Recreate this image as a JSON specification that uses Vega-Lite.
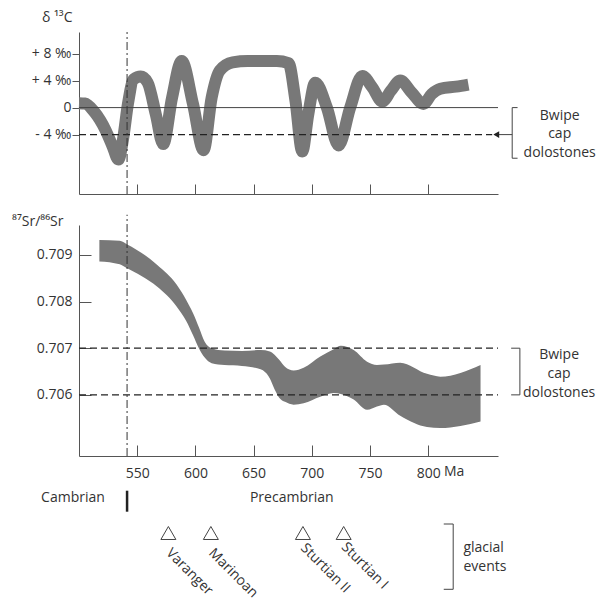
{
  "$schema": "https://vega.github.io/schema/vega-lite/v6.json",
  "width": 419,
  "height": 424,
  "autosize": {"type": "none"},
  "padding": {"left": 79, "top": 32, "right": 103, "bottom": 143},
  "background": "white",
  "config": {
    "view": {"stroke": null},
    "font": "Open Sans",
    "text": {"font": "Open Sans", "fontSize": 14, "fill": "#333"},
    "axis": {"grid": false, "domainColor": "#555", "tickColor": "#555", "labelFont": "Open Sans", "labelFontSize": 14, "labelColor": "#333", "titleFont": "Open Sans", "titleFontSize": 14, "titleColor": "#333", "titleFontWeight": "normal"}
  },
  "datasets": {
    "d13c": [
      {"ma": 500, "v": 0.65}, {"ma": 505, "v": 0.6}, {"ma": 513, "v": -0.6}, {"ma": 523, "v": -3.4}, {"ma": 529, "v": -5.8},
      {"ma": 533.8, "v": -7.7}, {"ma": 538, "v": -4.5}, {"ma": 542, "v": 0.5}, {"ma": 547, "v": 4.2}, {"ma": 553, "v": 4.6},
      {"ma": 559, "v": 3.7}, {"ma": 566, "v": -1.0}, {"ma": 572.3, "v": -5.4}, {"ma": 580, "v": 1.5}, {"ma": 588.2, "v": 6.9},
      {"ma": 598, "v": 0.5}, {"ma": 607, "v": -6.3}, {"ma": 614, "v": 1.5}, {"ma": 621, "v": 5.5}, {"ma": 632, "v": 6.7},
      {"ma": 645, "v": 6.9}, {"ma": 670, "v": 6.9}, {"ma": 680, "v": 6.6}, {"ma": 686, "v": 1.0}, {"ma": 691.8, "v": -6.5},
      {"ma": 697, "v": -1.0}, {"ma": 703, "v": 3.7}, {"ma": 713, "v": 0}, {"ma": 723, "v": -5.6}, {"ma": 733, "v": 0},
      {"ma": 743.4, "v": 4.7}, {"ma": 752, "v": 3.0}, {"ma": 760.6, "v": 0.9}, {"ma": 768, "v": 2.5}, {"ma": 776, "v": 4.0},
      {"ma": 786, "v": 2.2}, {"ma": 795.9, "v": 0.55}, {"ma": 803, "v": 2.0}, {"ma": 810.5, "v": 2.8}, {"ma": 824, "v": 3.1},
      {"ma": 834.6, "v": 3.4}
    ],
    "sr": [
      {"ma": 517.5, "lo": 0.70886, "hi": 0.70932}, {"ma": 535, "lo": 0.7088, "hi": 0.7093}, {"ma": 541, "lo": 0.70872, "hi": 0.70923},
      {"ma": 567, "lo": 0.70832, "hi": 0.70879}, {"ma": 584, "lo": 0.70789, "hi": 0.70836}, {"ma": 592, "lo": 0.70759, "hi": 0.70804},
      {"ma": 598, "lo": 0.70728, "hi": 0.70775}, {"ma": 603, "lo": 0.70700, "hi": 0.70745}, {"ma": 608, "lo": 0.70680, "hi": 0.70714},
      {"ma": 614, "lo": 0.70668, "hi": 0.70700}, {"ma": 625, "lo": 0.70664, "hi": 0.70695},
      {"ma": 640, "lo": 0.70662, "hi": 0.70694}, {"ma": 656, "lo": 0.70655, "hi": 0.70696}, {"ma": 664, "lo": 0.70635, "hi": 0.70693},
      {"ma": 668, "lo": 0.70612, "hi": 0.70686}, {"ma": 672, "lo": 0.70594, "hi": 0.70675}, {"ma": 677, "lo": 0.70585, "hi": 0.7066},
      {"ma": 684.4, "lo": 0.70579, "hi": 0.70652}, {"ma": 693, "lo": 0.70582, "hi": 0.70658}, {"ma": 707.3, "lo": 0.70596, "hi": 0.70682},
      {"ma": 718.8, "lo": 0.70604, "hi": 0.70698}, {"ma": 725, "lo": 0.70602, "hi": 0.70705}, {"ma": 736, "lo": 0.7059, "hi": 0.70696},
      {"ma": 747.5, "lo": 0.70568, "hi": 0.70671}, {"ma": 756, "lo": 0.70575, "hi": 0.70664}, {"ma": 762, "lo": 0.70579, "hi": 0.70665},
      {"ma": 776, "lo": 0.70555, "hi": 0.70669}, {"ma": 799, "lo": 0.70531, "hi": 0.70645}, {"ma": 810.5, "lo": 0.70529, "hi": 0.70639},
      {"ma": 845, "lo": 0.70543, "hi": 0.70664}
    ],
    "topSolidH": [
      {"ma": 500, "ma2": 860, "v": 0},
      {"ma": 857, "ma2": 872.2, "v": -4},
      {"ma": 872.2, "ma2": 876.8, "v": 0},
      {"ma": 872.2, "ma2": 876.8, "v": -7.5}
    ],
    "topDashedH": [{"ma": 500, "ma2": 855, "v": -4}],
    "topSolidV": [{"ma": 872.2, "v": 0, "v2": -7.5}],
    "topDashDot": [{"ma": 541.3, "v": -12.8, "v2": 11.2}],
    "topArrow": [{"ma": 858.5, "v": -4}],
    "topNotes": [
      {"ma": 913, "v": -1.23, "label": "Bwipe"},
      {"ma": 913, "v": -3.94, "label": "cap"},
      {"ma": 913, "v": -6.71, "label": "dolostones"}
    ],
    "srDashedH": [{"ma": 500, "ma2": 860, "v": 0.707}, {"ma": 500, "ma2": 860, "v": 0.706}],
    "srSolidH": [{"ma": 871.3, "ma2": 878.8, "v": 0.707}, {"ma": 871.3, "ma2": 878.8, "v": 0.706}],
    "srSolidV": [{"ma": 878.8, "v": 0.706, "v2": 0.707}],
    "srDashDot": [{"ma": 541.3, "v": 0.70469, "v2": 0.70986}],
    "srNotes": [
      {"ma": 912.5, "v": 0.706857, "label": "Bwipe"},
      {"ma": 912.5, "v": 0.70645, "label": "cap"},
      {"ma": 912.5, "v": 0.706036, "label": "dolostones"}
    ],
    "periods": [
      {"ma": 494.8, "v": 32, "label": "Cambrian"},
      {"ma": 682.8, "v": 32, "label": "Precambrian"}
    ],
    "leftNotes": [
      {"ma": 813.5, "v": 5.7, "label": "Ma"},
      {"ma": 830.3, "v": 82, "label": "glacial"},
      {"ma": 830.3, "v": 100.7, "label": "events"}
    ],
    "glacials": [
      {"ma": 576.8, "v": 67, "lv": 85, "label": "Varanger"},
      {"ma": 613.3, "v": 67, "lv": 85, "label": "Marinoan"},
      {"ma": 692.4, "v": 67, "lv": 80, "label": "Sturtian II"},
      {"ma": 727.4, "v": 67, "lv": 79, "label": "Sturtian I"}
    ],
    "boundary": [{"ma": 541.3, "v": 24.7, "v2": 45.7}],
    "glacBracketV": [{"ma": 821.5, "v": 58, "v2": 123.3}],
    "glacBracketH": [{"ma": 813.4, "ma2": 821.5, "v": 58}, {"ma": 813.4, "ma2": 821.5, "v": 123.3}]
  },
  "layer": [
    {
      "encoding": {
        "x": {"field": "ma", "type": "quantitative",
          "scale": {"domain": [500, 860], "nice": false, "zero": false},
          "axis": {"orient": "bottom", "offset": -262, "values": [550, 600, 650, 700, 750, 800], "labels": false, "tickSize": -10, "title": null}}
      },
      "layer": [
        {
          "data": {"name": "d13c"},
          "mark": {"type": "line", "interpolate": "monotone", "strokeWidth": 12, "stroke": "#787878", "strokeCap": "butt"},
          "encoding": {
            "y": {"field": "v", "type": "quantitative",
              "scale": {"domain": [-12.8, 11.2], "range": [162, 0], "nice": false, "zero": false},
              "axis": {"orient": "left", "values": [-4, 0, 4, 8],
                "labelExpr": "datum.value > 0 ? '+ ' + datum.value + ' ‰' : (datum.value < 0 ? '- ' + (-datum.value) + ' ‰' : '0')",
                "tickSize": 7, "labelPadding": 1,
                "title": "δ ¹³C", "titleAngle": 0, "titleX": -7, "titleY": -15, "titleAlign": "right", "titleBaseline": "middle"}}
          }
        },
        {
          "data": {"name": "topSolidH"},
          "mark": {"type": "rule", "stroke": "#444", "strokeWidth": 1, "clip": false},
          "encoding": {
            "x2": {"field": "ma2"},
            "y": {"field": "v", "type": "quantitative", "scale": {"domain": [-12.8, 11.2], "range": [162, 0], "nice": false, "zero": false}}
          }
        },
        {
          "data": {"name": "topDashedH"},
          "mark": {"type": "rule", "stroke": "#222", "strokeWidth": 1.2, "strokeDash": [7, 4], "clip": false},
          "encoding": {
            "x2": {"field": "ma2"},
            "y": {"field": "v", "type": "quantitative", "scale": {"domain": [-12.8, 11.2], "range": [162, 0], "nice": false, "zero": false}}
          }
        },
        {
          "data": {"name": "topSolidV"},
          "mark": {"type": "rule", "stroke": "#444", "strokeWidth": 1, "clip": false},
          "encoding": {
            "y": {"field": "v", "type": "quantitative", "scale": {"domain": [-12.8, 11.2], "range": [162, 0], "nice": false, "zero": false}},
            "y2": {"field": "v2"}
          }
        },
        {
          "data": {"name": "topDashDot"},
          "mark": {"type": "rule", "stroke": "#333", "strokeWidth": 1, "strokeDash": [8, 3, 2, 3], "clip": false},
          "encoding": {
            "y": {"field": "v", "type": "quantitative", "scale": {"domain": [-12.8, 11.2], "range": [162, 0], "nice": false, "zero": false}},
            "y2": {"field": "v2"}
          }
        },
        {
          "data": {"name": "topArrow"},
          "mark": {"type": "point", "shape": "triangle-left", "filled": true, "fill": "#222", "size": 45, "opacity": 1, "clip": false},
          "encoding": {
            "y": {"field": "v", "type": "quantitative", "scale": {"domain": [-12.8, 11.2], "range": [162, 0], "nice": false, "zero": false}}
          }
        },
        {
          "data": {"name": "topNotes"},
          "mark": {"type": "text", "align": "center", "baseline": "middle", "clip": false},
          "encoding": {
            "y": {"field": "v", "type": "quantitative", "scale": {"domain": [-12.8, 11.2], "range": [162, 0], "nice": false, "zero": false}},
            "text": {"field": "label"}
          }
        }
      ]
    },
    {
      "encoding": {
        "x": {"field": "ma", "type": "quantitative",
          "scale": {"domain": [500, 860], "nice": false, "zero": false},
          "axis": {"orient": "bottom", "offset": 0, "values": [550, 600, 650, 700, 750, 800], "tickSize": -11, "labelPadding": 21, "title": null}}
      },
      "layer": [
        {
          "data": {"name": "sr"},
          "mark": {"type": "area", "interpolate": "monotone", "fill": "#787878"},
          "encoding": {
            "y": {"field": "lo", "type": "quantitative",
              "scale": {"domain": [0.70469, 0.70964], "range": [424, 193], "nice": false, "zero": false},
              "axis": {"orient": "left", "values": [0.706, 0.707, 0.708, 0.709], "format": ".3f",
                "tickSize": -12, "labelPadding": 19,
                "title": "⁸⁷Sr/⁸⁶Sr", "titleAngle": 0, "titleX": -16, "titleY": 189, "titleAlign": "right", "titleBaseline": "middle"}},
            "y2": {"field": "hi"}
          }
        },
        {
          "data": {"name": "srDashedH"},
          "mark": {"type": "rule", "stroke": "#222", "strokeWidth": 1.2, "strokeDash": [7, 4], "clip": false},
          "encoding": {
            "x2": {"field": "ma2"},
            "y": {"field": "v", "type": "quantitative", "scale": {"domain": [0.70469, 0.70964], "range": [424, 193], "nice": false, "zero": false}}
          }
        },
        {
          "data": {"name": "srSolidH"},
          "mark": {"type": "rule", "stroke": "#444", "strokeWidth": 1, "clip": false},
          "encoding": {
            "x2": {"field": "ma2"},
            "y": {"field": "v", "type": "quantitative", "scale": {"domain": [0.70469, 0.70964], "range": [424, 193], "nice": false, "zero": false}}
          }
        },
        {
          "data": {"name": "srSolidV"},
          "mark": {"type": "rule", "stroke": "#444", "strokeWidth": 1, "clip": false},
          "encoding": {
            "y": {"field": "v", "type": "quantitative", "scale": {"domain": [0.70469, 0.70964], "range": [424, 193], "nice": false, "zero": false}},
            "y2": {"field": "v2"}
          }
        },
        {
          "data": {"name": "srDashDot"},
          "mark": {"type": "rule", "stroke": "#333", "strokeWidth": 1, "strokeDash": [8, 3, 2, 3], "clip": false},
          "encoding": {
            "y": {"field": "v", "type": "quantitative", "scale": {"domain": [0.70469, 0.70964], "range": [424, 193], "nice": false, "zero": false}},
            "y2": {"field": "v2"}
          }
        },
        {
          "data": {"name": "srNotes"},
          "mark": {"type": "text", "align": "center", "baseline": "middle", "clip": false},
          "encoding": {
            "y": {"field": "v", "type": "quantitative", "scale": {"domain": [0.70469, 0.70964], "range": [424, 193], "nice": false, "zero": false}},
            "text": {"field": "label"}
          }
        }
      ]
    },
    {
      "encoding": {
        "x": {"field": "ma", "type": "quantitative",
          "scale": {"domain": [500, 860], "nice": false, "zero": false},
          "axis": null}
      },
      "layer": [
        {
          "data": {"name": "periods"},
          "mark": {"type": "text", "align": "center", "baseline": "middle", "clip": false},
          "encoding": {
            "y": {"field": "v", "type": "quantitative", "scale": {"domain": [0, 133], "range": [434, 567], "nice": false, "zero": false}, "axis": null},
            "text": {"field": "label"}
          }
        },
        {
          "data": {"name": "leftNotes"},
          "mark": {"type": "text", "align": "left", "baseline": "middle", "clip": false},
          "encoding": {
            "y": {"field": "v", "type": "quantitative", "scale": {"domain": [0, 133], "range": [434, 567], "nice": false, "zero": false}},
            "text": {"field": "label"}
          }
        },
        {
          "data": {"name": "glacials"},
          "mark": {"type": "point", "shape": "triangle-up", "filled": false, "stroke": "#444", "strokeWidth": 1, "size": 225, "opacity": 1, "clip": false},
          "encoding": {
            "y": {"field": "v", "type": "quantitative", "scale": {"domain": [0, 133], "range": [434, 567], "nice": false, "zero": false}}
          }
        },
        {
          "data": {"name": "glacials"},
          "mark": {"type": "text", "align": "left", "baseline": "middle", "angle": 45, "clip": false},
          "encoding": {
            "y": {"field": "lv", "type": "quantitative", "scale": {"domain": [0, 133], "range": [434, 567], "nice": false, "zero": false}},
            "text": {"field": "label"}
          }
        },
        {
          "data": {"name": "boundary"},
          "mark": {"type": "rule", "stroke": "#222", "strokeWidth": 2.5, "clip": false},
          "encoding": {
            "y": {"field": "v", "type": "quantitative", "scale": {"domain": [0, 133], "range": [434, 567], "nice": false, "zero": false}},
            "y2": {"field": "v2"}
          }
        },
        {
          "data": {"name": "glacBracketV"},
          "mark": {"type": "rule", "stroke": "#444", "strokeWidth": 1, "clip": false},
          "encoding": {
            "y": {"field": "v", "type": "quantitative", "scale": {"domain": [0, 133], "range": [434, 567], "nice": false, "zero": false}},
            "y2": {"field": "v2"}
          }
        },
        {
          "data": {"name": "glacBracketH"},
          "mark": {"type": "rule", "stroke": "#444", "strokeWidth": 1, "clip": false},
          "encoding": {
            "x2": {"field": "ma2"},
            "y": {"field": "v", "type": "quantitative", "scale": {"domain": [0, 133], "range": [434, 567], "nice": false, "zero": false}}
          }
        }
      ]
    }
  ],
  "resolve": {"scale": {"y": "independent"}, "axis": {"x": "independent", "y": "independent"}}
}
